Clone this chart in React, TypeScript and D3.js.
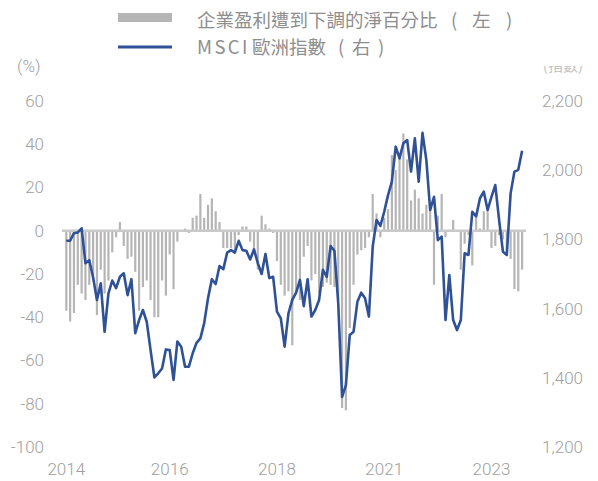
import React from "react";
import * as d3 from "d3";

// Net % of companies with earnings revised down (left axis), monthly
const revisionValues: number[] = [
  -37, -42, -38, -25, -29, -32, -25, -23, -39, -18, -29, -23, -10, -3, 4, -7, -13, -12, -19, -37, -26, -23, -32, -40, -40, -23, -30, -11, -27, -5,
  0, 1, -1, 6, 7, 17, 6, 12, 15, 9, 4, -8, -8, -8, -10, -2, 2, 2, -5, -10, -18, 7, 3, 1, -1, -14, -25, -30, -28,
  -53, -29, -32, -12, -7, -23, -20, -29, -26, -24, -25, -26, -32, -82, -83, -45, -25, -11, -9, -8, -3,
  17, 8, -3, 6, 10, 35, 28, 34, 45, 33, 14, 19, 15, 8, 12, 10, -25, 7, 17, -3,
  0, 5, 0, -18, -6, -2, -16, 6, 1, 9, 10, -8, -7, -2, -4, -10, -13, -27, -28, -18,
];

// MSCI Europe index (right axis), monthly
const msciValues: number[] = [
  1796, 1796, 1818, 1820, 1832, 1731, 1740, 1690, 1625, 1673, 1533, 1644, 1681, 1659, 1692, 1702, 1639, 1685, 1529, 1567, 1596, 1562, 1480, 1401, 1413, 1427, 1482, 1480, 1394, 1505,
  1490, 1432, 1432, 1471, 1501, 1514, 1558, 1630, 1685, 1671, 1723, 1714, 1762, 1769, 1762, 1796, 1769, 1767, 1742, 1771, 1731, 1700, 1758, 1688, 1692, 1591, 1572, 1490, 1586, 1625,
  1646, 1683, 1607, 1685, 1577, 1596, 1625, 1712, 1692, 1781, 1767, 1615, 1345, 1379, 1524, 1533, 1620, 1646, 1630, 1577, 1779, 1856, 1839, 1880, 1928, 1967, 2068, 2034, 2078, 2087,
  1996, 2092, 1967, 2108, 2029, 1885, 1923, 1798, 1808, 1567, 1697, 1567, 1538, 1567, 1760, 1755, 1880, 1866, 1919, 1938, 1885, 1923, 1957, 1856, 1764, 1755, 1933, 1996, 2001, 2056,
];

const xTickLabels: string[] = ["2014", "2016", "2018", "2021", "2023"];
const xTickIndex: number[] = [0, 27, 55, 83, 111];
const leftTicks: number[] = [60, 40, 20, 0, -20, -40, -60, -80, -100];
const rightTicks: number[] = [2200, 2000, 1800, 1600, 1400, 1200];

const legendLatin: string[] = ["", "MSCI"];
const legendMain: string[] = ["企業盈利遭到下調的淨百分比", "歐洲指數"];
const legendSide: string[] = ["左", "右"];

const W = 598;
const H = 481;
const TOP = 101;
const BOTTOM = 447;
const TICK_FONT = "Roboto, 'Liberation Sans', Arial, sans-serif";
const CJK_FONT = "'Noto Sans CJK TC', 'Noto Sans CJK SC', sans-serif";
const GRAY_TEXT = "#a0a0a0";
const LEGEND_TEXT = "#8e8e8e";
const BAR_COLOR = "#b5b5b5";
const LINE_COLOR = "#2e5197";

export default function App() {
  const n = revisionValues.length;
  const x = d3.scaleLinear().domain([0, n - 1]).range([66.3, 522.1]);
  const yL = d3.scaleLinear().domain([-100, 60]).range([BOTTOM, TOP]);
  const yR = d3.scaleLinear().domain([1200, 2200]).range([BOTTOM, TOP]);
  const line = d3
    .line<number>()
    .x((_, i) => x(i))
    .y((d) => yR(d))
    .curve(d3.curveLinear);
  const barW = 2.2;

  // legend layouts: [main text x, open paren x, char x, close paren x]
  const layout = [
    [197, 451, 472, 506],
    [252, 338, 352, 378],
  ];
  const legendY = [27, 54];

  return (
    <svg
      width={W}
      height={H}
      style={{ position: "absolute", left: 0, top: 0, background: "#fff" }}
    >
      <defs>
        <clipPath id="unitclip">
          <rect x={520} y={66} width={78} height={10} />
        </clipPath>
      </defs>
      {/* Legend */}
      <rect x={118} y={13} width={54} height={9} fill={BAR_COLOR} />
      <line x1={118} x2={172} y1={47} y2={47} stroke={LINE_COLOR} strokeWidth={3} />
      {legendMain.map((t, k) => (
        <text key={"lg" + k} y={legendY[k]} fontFamily={CJK_FONT} fontSize={18.5} fill={LEGEND_TEXT}>
          {legendLatin[k] ? (
            <tspan x={197} letterSpacing={2.4}>{legendLatin[k]}</tspan>
          ) : null}
          <tspan x={layout[k][0]} letterSpacing={0}>{t}</tspan>
          <tspan x={layout[k][1]}>(</tspan>
          <tspan x={layout[k][2]}>{legendSide[k]}</tspan>
          <tspan x={layout[k][3]}>)</tspan>
        </text>
      ))}

      {/* Unit labels */}
      <text x={17} y={72} fontFamily={TICK_FONT} fontWeight={300} fontSize={17} fill={GRAY_TEXT}>
        (%)
      </text>
      <text
        x={583}
        y={71}
        textAnchor="end"
        fontFamily={CJK_FONT}
        fontSize={15}
        fill="#c4c4c4"
        clipPath="url(#unitclip)"
      >
        (指數)
      </text>

      {/* Left ticks */}
      {leftTicks.map((t) => (
        <text
          key={"l" + t}
          x={44}
          y={yL(t)}
          dy="0.35em"
          textAnchor="end"
          fontFamily={TICK_FONT}
          fontWeight={300}
          fontSize={17}
          fill={GRAY_TEXT}
        >
          {t}
        </text>
      ))}
      {/* Right ticks */}
      {rightTicks.map((t) => (
        <text
          key={"r" + t}
          x={583}
          y={yR(t)}
          dy="0.35em"
          textAnchor="end"
          fontFamily={TICK_FONT}
          fontWeight={300}
          fontSize={17}
          fill={GRAY_TEXT}
        >
          {d3.format(",")(t)}
        </text>
      ))}
      {/* X ticks */}
      {xTickLabels.map((lab, i) => (
        <text
          key={"x" + lab}
          x={x(xTickIndex[i])}
          y={469}
          dy="0.35em"
          textAnchor="middle"
          fontFamily={TICK_FONT}
          fontWeight={300}
          fontSize={17}
          fill={GRAY_TEXT}
        >
          {lab}
        </text>
      ))}

      {/* Bars */}
      {revisionValues.map((v, i) => (
        <rect
          key={"b" + i}
          x={x(i) - barW / 2}
          y={Math.min(yL(v), yL(0))}
          width={barW}
          height={Math.abs(yL(v) - yL(0))}
          fill={BAR_COLOR}
        />
      ))}
      {/* Zero baseline */}
      <line
        x1={62}
        x2={526}
        y1={yL(0)}
        y2={yL(0)}
        stroke="#c9c9c9"
        strokeWidth={2.5}
      />
      {/* Line */}
      <path
        d={line(msciValues) || ""}
        fill="none"
        stroke={LINE_COLOR}
        strokeWidth={2.6}
        strokeLinejoin="round"
      />
    </svg>
  );
}
